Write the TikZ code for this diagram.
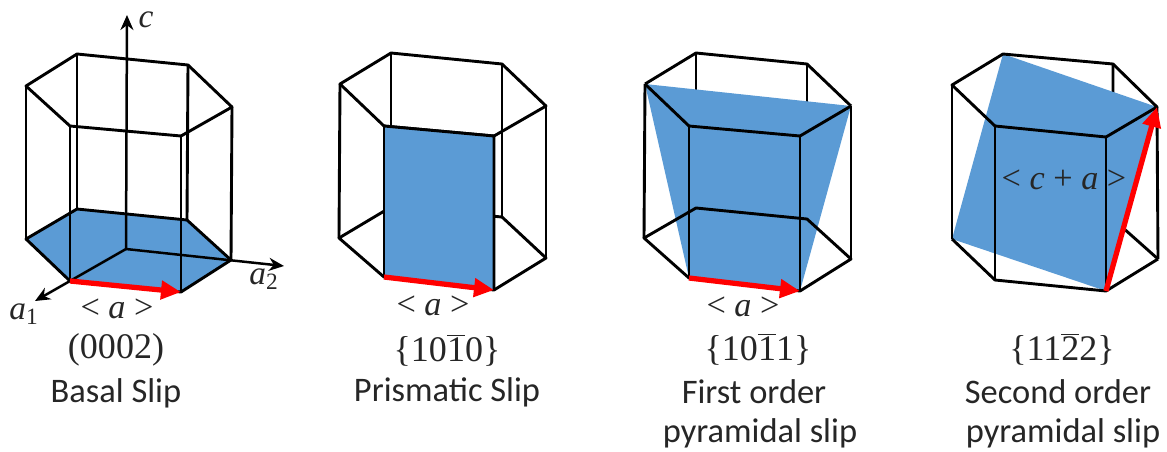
\documentclass[tikz,border=0pt]{standalone}
\usepackage{fontspec}
\setmainfont{Carlito}
\newfontfamily\labelfont{Liberation Serif}
\usetikzlibrary{arrows.meta}
\definecolor{slipblue}{HTML}{5B9BD5}
\newcommand{\barred}[1]{$\overline{\mbox{#1}}$}
\tikzset{
  edge/.style={line width=0.058cm,black,line join=round},
  slipface/.style={fill=slipblue},
  sliparrow/.style={line width=0.105cm,red,-{Triangle[length=0.4cm,width=0.36cm]}},
  axisline/.style={line width=0.05cm,black,-{Stealth[length=0.3cm,width=0.26cm]}},
  caption/.style={font=\fontsize{19.6}{22}\selectfont,text=black!85},
  planelabel/.style={font=\labelfont\fontsize{20.5}{23}\selectfont,text=black!85},
  dirlabel/.style={font=\labelfont\fontsize{19.5}{22}\selectfont,text=black!85},
  axislabel/.style={font=\labelfont\itshape\fontsize{19}{21}\selectfont,text=black!85}
}
\begin{document}
\begin{tikzpicture}[x=0.02cm,y=-0.02cm]
\useasboundingbox (0,0) rectangle (1167,451);
% basal
\coordinate (origin) at (126,249);
\coordinate (cEnd) at (127,15);
\coordinate (aOneEnd) at (35,301);
\coordinate (aTwoEnd) at (284,266);
\coordinate (basalStart) at (70,281);
\coordinate (basalEnd) at (181,292);
\fill[slipblue] (26,239) -- (77,209) -- (187,220) -- (231,260) -- (181,292) -- (70,281) -- cycle;
\draw[edge] (26,86) -- (77,54) -- (188,65) -- (232,107) -- (181,136) -- (70,126) -- cycle;
\draw[edge] (26,239) -- (77,209) -- (187,220) -- (231,260) -- (181,292) -- (70,281) -- cycle;
\draw[edge] (26,86) -- (26,239);
\draw[edge] (77,54) -- (77,209);
\draw[edge] (188,65) -- (187,220);
\draw[edge] (232,107) -- (231,260);
\draw[edge] (181,136) -- (181,292);
\draw[edge] (70,126) -- (70,281);
\draw[axisline] (origin) -- (cEnd);
\draw[axisline] (origin) -- (aOneEnd);
\draw[axisline] (origin) -- (aTwoEnd);
\draw[sliparrow] (basalStart) -- (basalEnd);
\node[axislabel] (cLabel) at (146,20) {c};
\node[axislabel] (aOneLabel) at (24,314) {a\textsubscript{\upshape 1}};
\node[axislabel] (aTwoLabel) at (264,279) {a\textsubscript{\upshape 2}};
\node[dirlabel] (basalDir) at (117,309) {< \textit{a} >};
\node[planelabel] (basalPlane) at (116,350) {(0002)};
\node[caption] (basalName) at (116,393) {Basal Slip};
% prismatic
\coordinate (prismStart) at (384,277);
\coordinate (prismEnd) at (494,290);
\draw[edge] (340,84) -- (391,53) -- (502,64) -- (546,106) -- (494,136) -- (384,126) -- cycle;
\draw[edge] (339,238) -- (391,207) -- (502,217) -- (546,258) -- (494,290) -- (384,277) -- cycle;
\draw[edge] (340,84) -- (339,238);
\draw[edge] (391,53) -- (391,207);
\draw[edge] (502,64) -- (502,217);
\draw[edge] (546,106) -- (546,258);
\fill[slipblue] (384,126) -- (494,136) -- (494,290) -- (384,277) -- cycle;
\draw[edge] (384,126) -- (494,136) -- (494,290);
\draw[edge] (384,126) -- (384,277);
\draw[sliparrow] (prismStart) -- (prismEnd);
\node[dirlabel] (prismDir) at (433,306) {< \textit{a} >};
\node[planelabel] (prismPlane) at (447,350) {\{10\barred{1}0\}};
\node[caption] (prismName) at (447,392) {Prismatic Slip};
% first order
\coordinate (firstStart) at (689,278);
\coordinate (firstEnd) at (800,291);
\draw[edge] (645,84) -- (696,53) -- (807,64) -- (851,106);
\draw[edge] (696,53) -- (696,208);
\draw[edge] (807,64) -- (807,219);
\fill[slipblue] (645,84) -- (851,106) -- (800,291) -- (689,278) -- cycle;
\draw[edge] (645,84) -- (689,126) -- (800,136) -- (851,106);
\draw[edge] (644,238) -- (696,208) -- (807,219) -- (851,259) -- (800,291) -- (689,278) -- cycle;
\draw[edge] (645,84) -- (644,238);
\draw[edge] (851,106) -- (851,259);
\draw[edge] (689,126) -- (689,278);
\draw[edge] (800,136) -- (800,291);
\draw[sliparrow] (firstStart) -- (firstEnd);
\node[dirlabel] (firstDir) at (743,307) {< \textit{a} >};
\node[planelabel] (firstPlane) at (758,349) {\{10\barred{1}1\}};
\node[caption] (firstNameA) at (754,392) {First order};
\node[caption] (firstNameB) at (760,433) {pyramidal slip};
% second order
\coordinate (secondStart) at (1106,291);
\coordinate (secondEnd) at (1157,107);
\draw[edge] (1113,64) -- (1113,219) -- (1158,259);
\fill[slipblue] (1003,54) -- (1157,107) -- (1106,291) -- (952,239) -- cycle;
\draw[edge] (952,85) -- (1003,54) -- (1113,64) -- (1157,107) -- (1106,137) -- (995,126) -- cycle;
\draw[edge] (952,239) -- (995,280) -- (1106,291) -- (1158,259);
\draw[edge] (952,85) -- (952,239);
\draw[edge] (1157,107) -- (1158,259);
\draw[edge] (995,126) -- (995,280);
\draw[edge] (1106,137) -- (1106,291);
\draw[sliparrow] (secondStart) -- (secondEnd);
\node[dirlabel] (secondDir) at (1064,180) {< \textit{c} + \textit{a} >};
\node[planelabel] (secondPlane) at (1062,349) {\{11\barred{2}2\}};
\node[caption] (secondNameA) at (1058,392) {Second order};
\node[caption] (secondNameB) at (1063,433) {pyramidal slip};
\end{tikzpicture}
\end{document}
